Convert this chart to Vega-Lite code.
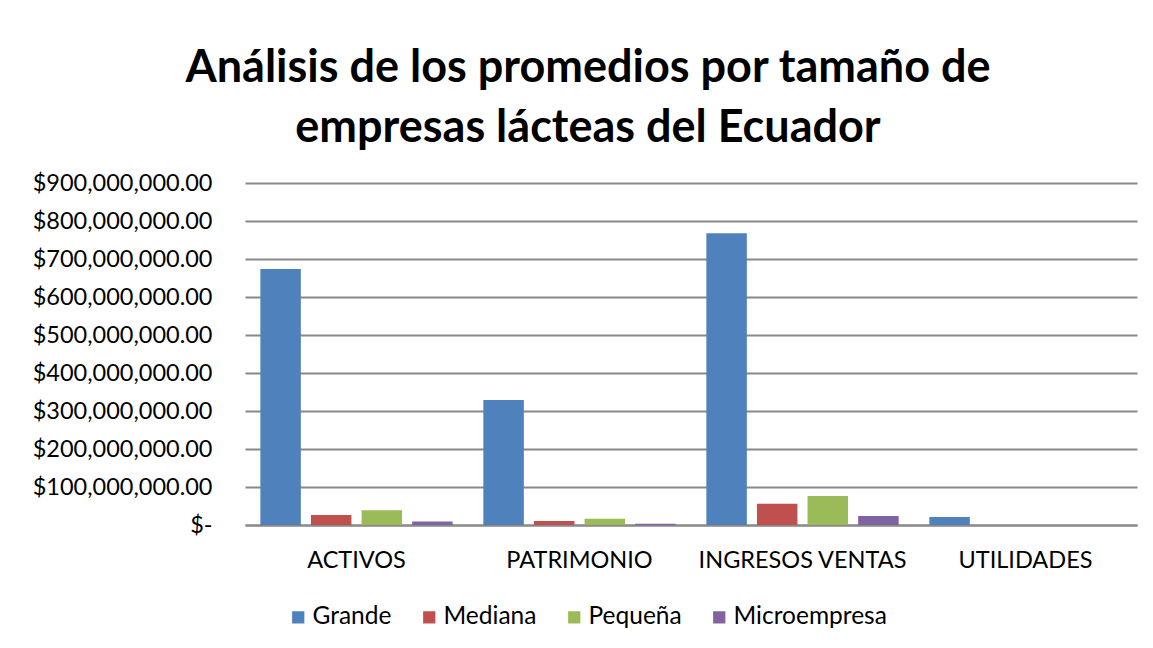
{
  "$schema": "https://vega.github.io/schema/vega-lite/v6.json",
  "autosize": "none",
  "width": 892,
  "height": 342,
  "padding": {"left": 245, "top": 183, "right": 16, "bottom": 123},
  "background": "white",
  "title": {
    "text": ["Análisis de los promedios por tamaño de", "empresas lácteas del Ecuador"],
    "font": "Lato",
    "fontSize": 45,
    "fontWeight": "bold",
    "color": "black",
    "lineHeight": 60,
    "anchor": "middle",
    "dx": -103,
    "offset": 20
  },
  "data": {
    "values": [
      {"categoria": "ACTIVOS", "tamano": "Grande", "valor": 674000000},
      {"categoria": "ACTIVOS", "tamano": "Mediana", "valor": 26000000},
      {"categoria": "ACTIVOS", "tamano": "Pequeña", "valor": 39000000},
      {"categoria": "ACTIVOS", "tamano": "Microempresa", "valor": 9000000},
      {"categoria": "PATRIMONIO", "tamano": "Grande", "valor": 329000000},
      {"categoria": "PATRIMONIO", "tamano": "Mediana", "valor": 10500000},
      {"categoria": "PATRIMONIO", "tamano": "Pequeña", "valor": 16600000},
      {"categoria": "PATRIMONIO", "tamano": "Microempresa", "valor": 3400000},
      {"categoria": "INGRESOS VENTAS", "tamano": "Grande", "valor": 768000000},
      {"categoria": "INGRESOS VENTAS", "tamano": "Mediana", "valor": 56000000},
      {"categoria": "INGRESOS VENTAS", "tamano": "Pequeña", "valor": 76000000},
      {"categoria": "INGRESOS VENTAS", "tamano": "Microempresa", "valor": 23700000},
      {"categoria": "UTILIDADES", "tamano": "Grande", "valor": 21000000},
      {"categoria": "UTILIDADES", "tamano": "Mediana", "valor": 200000},
      {"categoria": "UTILIDADES", "tamano": "Pequeña", "valor": 150000},
      {"categoria": "UTILIDADES", "tamano": "Microempresa", "valor": 50000}
    ]
  },
  "mark": {"type": "bar"},
  "encoding": {
    "x": {
      "field": "categoria",
      "type": "nominal",
      "sort": ["ACTIVOS", "PATRIMONIO", "INGRESOS VENTAS", "UTILIDADES"],
      "scale": {"paddingInner": 0.1, "paddingOuter": 0.05},
      "axis": {
        "title": null,
        "labelAngle": 0,
        "labelFont": "Lato",
        "labelFontSize": 23.5,
        "labelColor": "black",
        "labelPadding": 23,
        "labelLimit": 0,
        "ticks": false,
        "domainColor": "#888888",
        "domainWidth": 2,
        "grid": false
      }
    },
    "xOffset": {
      "field": "tamano",
      "type": "nominal",
      "sort": ["Grande", "Mediana", "Pequeña", "Microempresa"],
      "scale": {"paddingInner": 0.2, "paddingOuter": 0.083}
    },
    "y": {
      "field": "valor",
      "type": "quantitative",
      "scale": {"domain": [0, 900000000], "nice": false},
      "axis": {
        "title": null,
        "values": [0, 100000000, 200000000, 300000000, 400000000, 500000000, 600000000, 700000000, 800000000, 900000000],
        "labelExpr": "datum.value == 0 ? '$-\u00a0\u00a0' : format(datum.value, '$,.2f')",
        "labelFont": "Lato",
        "labelFontSize": 23.5,
        "labelColor": "black",
        "labelPadding": 33,
        "labelLimit": 0,
        "ticks": false,
        "domain": false,
        "gridColor": "#888888",
        "gridWidth": 2
      }
    },
    "color": {
      "field": "tamano",
      "type": "nominal",
      "sort": ["Grande", "Mediana", "Pequeña", "Microempresa"],
      "scale": {
        "domain": ["Grande", "Mediana", "Pequeña", "Microempresa"],
        "range": ["#4F81BD", "#C0504D", "#9BBB59", "#8064A2"]
      },
      "legend": {
        "title": null,
        "orient": "none",
        "direction": "horizontal",
        "legendX": 41,
        "legendY": 422,
        "symbolType": "square",
        "symbolSize": 150,
        "symbolStrokeWidth": 0,
        "labelFont": "Lato",
        "labelFontSize": 24.5,
        "labelColor": "black",
        "labelOffset": 2,
        "labelLimit": 0,
        "columnPadding": 25
      }
    }
  },
  "config": {
    "view": {"stroke": null}
  }
}
